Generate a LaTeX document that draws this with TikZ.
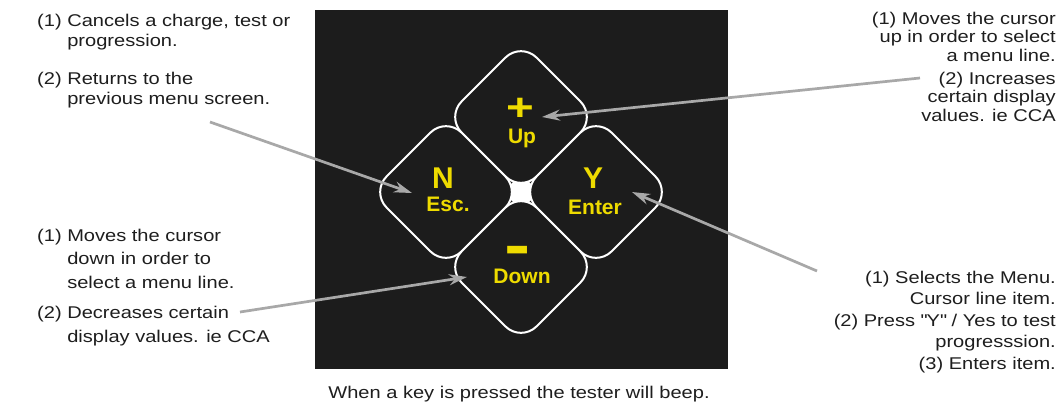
\documentclass[tikz,border=0pt]{standalone}
\usepackage{fontspec}
\setmainfont{Liberation Sans}[FakeStretch=1.18]
\newfontfamily\keyfont{Liberation Sans}
\usetikzlibrary{arrows.meta, positioning}

\definecolor{panel}{HTML}{1C1C1C}
\definecolor{keyyellow}{HTML}{EEDB00}
\definecolor{arrowgray}{HTML}{A8A8A8}
\definecolor{ink}{HTML}{1E1E1E}

\tikzset{
	note/.style={text=ink, inner sep=0pt, font=\fontsize{17}{20}\selectfont},
	keybox/.style={draw=white, line width=2pt, fill=panel, rounded corners=22pt, minimum size=106pt, inner sep=0pt, rotate=45},
	keyname/.style={text=keyyellow, inner sep=0pt, font=\keyfont\bfseries\fontsize{21}{21}\selectfont},
	keyletter/.style={text=keyyellow, inner sep=0pt, font=\keyfont\bfseries\fontsize{30}{30}\selectfont},
	keysign/.style={text=keyyellow, inner sep=0pt, font=\keyfont\bfseries\fontsize{38}{38}\selectfont},
	pointer/.style={draw=arrowgray, line width=2.7pt, -{Stealth[length=18pt,width=11pt]}}
}

\begin{document}
\begin{tikzpicture}[x=1pt,y=-1pt]
		\useasboundingbox (0,0) rectangle (1061,407);
		\fill[white] (0,0) rectangle (1061,407);
		% keypad
		\fill[panel] (315,10) rectangle (728,369);
		\fill[white] (503,192) -- (521,174) -- (539,192) -- (521,210) -- cycle;
		\node[keybox] (upkey) at (521,117) {};
		\node[keybox] (esckey) at (446,192) {};
		\node[keybox] (enterkey) at (596,192) {};
		\node[keybox] (downkey) at (521,267) {};
		\node[keysign] (plus) at (520,109) {\scalebox{1.25}[1]{+}};
		\node[keyname] (uplabel) at (522,138) {Up};
		\node[keyletter] (nlabel) at (443,178) {N};
		\node[keyname] (esclabel) at (448,204) {Esc.};
		\node[keyletter] (ylabel) at (593,178) {Y};
		\node[keyname] (enterlabel) at (595,207) {Enter};
		\node[keysign, anchor=base] (minus) at (518,270) {\scalebox{1.05}[2]{–}};
		\node[keyname] (downlabel) at (522,276) {Down};
		% notes (base = last line)
		\node[note, anchor=base west, align=left] (cancelnote) at (37,46) {(1) Cancels a charge, test or\\\phantom{(1)} progression.};
		\node[note, anchor=base west, align=left] (returnnote) at (37,104) {(2) Returns to the\\\phantom{(2)} previous menu screen.};
		\node[note, anchor=base east, align=right, font=\fontsize{17}{18.5}\selectfont] (upnote) at (1056,61) {(1) Moves the cursor\\up in order to select\\a menu line.};
		\node[note, anchor=base east, align=right, font=\fontsize{17}{18.5}\selectfont] (increasenote) at (1056,121) {(2) Increases\\certain display\\values. ie CCA};
		\node[note, anchor=base west, align=left, font=\fontsize{17}{23.5}\selectfont] (downnote) at (37,288) {(1) Moves the cursor\\\phantom{(1)} down in order to\\\phantom{(1)} select a menu line.};
		\node[note, anchor=base west, align=left, font=\fontsize{17}{23.5}\selectfont] (decreasenote) at (37,342) {(2) Decreases certain\\\phantom{(2)} display values. ie CCA};
		\node[note, anchor=base east, align=right, font=\fontsize{17}{21.5}\selectfont] (enternote) at (1056,369) {(1) Selects the Menu.\\Cursor line item.\\(2) Press \textquotedbl Y\textquotedbl{} / Yes to test\\progresssion.\\(3) Enters item.};
		\node[note, anchor=base] (caption) at (519,398) {When a key is pressed the tester will beep.};
		% arrows
		\coordinate (escfrom) at (210,122);
		\coordinate (esctip) at (412,193);
		\coordinate (upfrom) at (920,78);
		\coordinate (uptip) at (542,117);
		\coordinate (enterfrom) at (817,271);
		\coordinate (entertip) at (632,192);
		\coordinate (downfrom) at (240,312);
		\coordinate (downtip) at (467,277);
		\draw[pointer] (escfrom) -- (esctip);
		\draw[pointer] (upfrom) -- (uptip);
		\draw[pointer] (enterfrom) -- (entertip);
		\draw[pointer] (downfrom) -- (downtip);
	\end{tikzpicture}
\end{document}
